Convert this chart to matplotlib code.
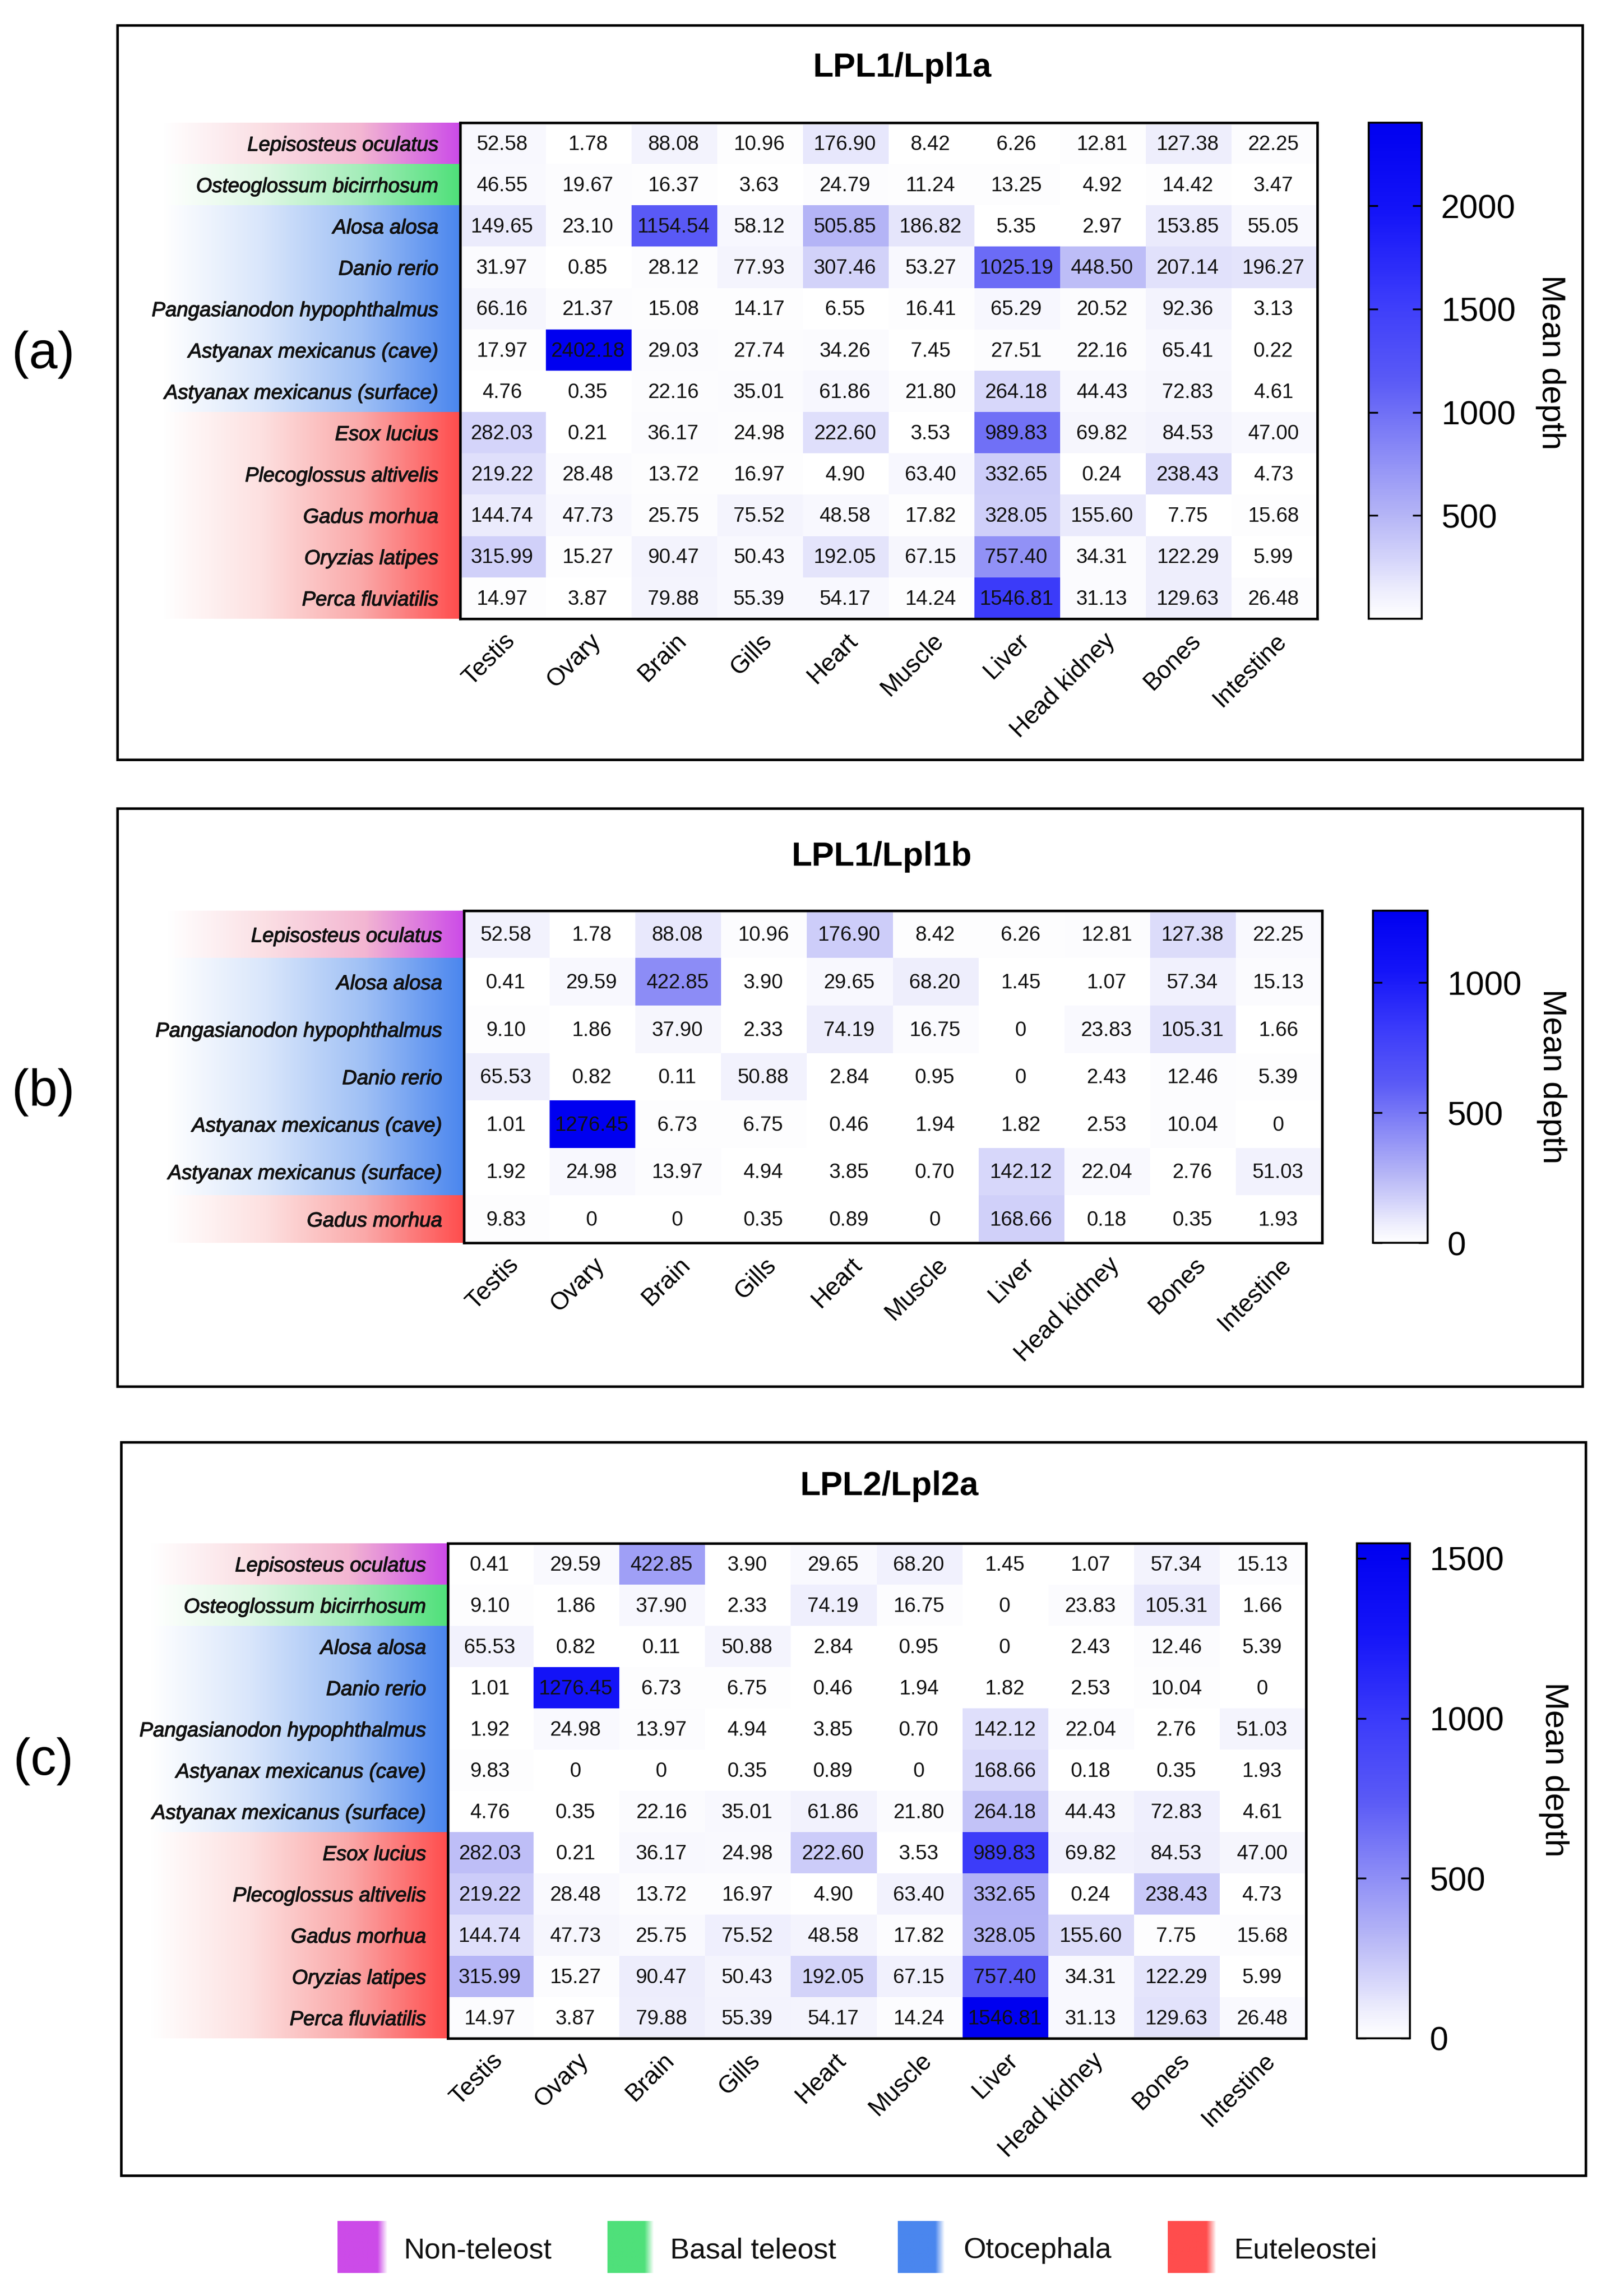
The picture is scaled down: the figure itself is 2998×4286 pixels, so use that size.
import numpy as np
import matplotlib
matplotlib.use("Agg")
import matplotlib.pyplot as plt
import matplotlib.patheffects as pe
from matplotlib.colors import LinearSegmentedColormap, to_rgb
from matplotlib.patches import Rectangle

plt.rcParams['font.family'] = ['Liberation Sans', 'DejaVu Sans']

W, H = 2998, 4286
DPI = 100

tissues = ["Testis", "Ovary", "Brain", "Gills", "Heart", "Muscle", "Liver", "Head kidney", "Bones", "Intestine"]

species_a = ["Lepisosteus oculatus", "Osteoglossum bicirrhosum", "Alosa alosa", "Danio rerio",
             "Pangasianodon hypophthalmus", "Astyanax mexicanus (cave)", "Astyanax mexicanus (surface)",
             "Esox lucius", "Plecoglossus altivelis", "Gadus morhua", "Oryzias latipes", "Perca fluviatilis"]
groups_a = ["non", "basal", "oto", "oto", "oto", "oto", "oto", "eu", "eu", "eu", "eu", "eu"]
values_a = [
    [52.58, 1.78, 88.08, 10.96, 176.90, 8.42, 6.26, 12.81, 127.38, 22.25],
    [46.55, 19.67, 16.37, 3.63, 24.79, 11.24, 13.25, 4.92, 14.42, 3.47],
    [149.65, 23.10, 1154.54, 58.12, 505.85, 186.82, 5.35, 2.97, 153.85, 55.05],
    [31.97, 0.85, 28.12, 77.93, 307.46, 53.27, 1025.19, 448.50, 207.14, 196.27],
    [66.16, 21.37, 15.08, 14.17, 6.55, 16.41, 65.29, 20.52, 92.36, 3.13],
    [17.97, 2402.18, 29.03, 27.74, 34.26, 7.45, 27.51, 22.16, 65.41, 0.22],
    [4.76, 0.35, 22.16, 35.01, 61.86, 21.80, 264.18, 44.43, 72.83, 4.61],
    [282.03, 0.21, 36.17, 24.98, 222.60, 3.53, 989.83, 69.82, 84.53, 47.00],
    [219.22, 28.48, 13.72, 16.97, 4.90, 63.40, 332.65, 0.24, 238.43, 4.73],
    [144.74, 47.73, 25.75, 75.52, 48.58, 17.82, 328.05, 155.60, 7.75, 15.68],
    [315.99, 15.27, 90.47, 50.43, 192.05, 67.15, 757.40, 34.31, 122.29, 5.99],
    [14.97, 3.87, 79.88, 55.39, 54.17, 14.24, 1546.81, 31.13, 129.63, 26.48],
]

species_b = ["Lepisosteus oculatus", "Alosa alosa", "Pangasianodon hypophthalmus", "Danio rerio",
             "Astyanax mexicanus (cave)", "Astyanax mexicanus (surface)", "Gadus morhua"]
groups_b = ["non", "oto", "oto", "oto", "oto", "oto", "eu"]
values_b = [
    [52.58, 1.78, 88.08, 10.96, 176.90, 8.42, 6.26, 12.81, 127.38, 22.25],
    [0.41, 29.59, 422.85, 3.90, 29.65, 68.20, 1.45, 1.07, 57.34, 15.13],
    [9.10, 1.86, 37.90, 2.33, 74.19, 16.75, 0, 23.83, 105.31, 1.66],
    [65.53, 0.82, 0.11, 50.88, 2.84, 0.95, 0, 2.43, 12.46, 5.39],
    [1.01, 1276.45, 6.73, 6.75, 0.46, 1.94, 1.82, 2.53, 10.04, 0],
    [1.92, 24.98, 13.97, 4.94, 3.85, 0.70, 142.12, 22.04, 2.76, 51.03],
    [9.83, 0, 0, 0.35, 0.89, 0, 168.66, 0.18, 0.35, 1.93],
]

species_c = species_a
groups_c = groups_a
values_c = [
    [0.41, 29.59, 422.85, 3.90, 29.65, 68.20, 1.45, 1.07, 57.34, 15.13],
    [9.10, 1.86, 37.90, 2.33, 74.19, 16.75, 0, 23.83, 105.31, 1.66],
    [65.53, 0.82, 0.11, 50.88, 2.84, 0.95, 0, 2.43, 12.46, 5.39],
    [1.01, 1276.45, 6.73, 6.75, 0.46, 1.94, 1.82, 2.53, 10.04, 0],
    [1.92, 24.98, 13.97, 4.94, 3.85, 0.70, 142.12, 22.04, 2.76, 51.03],
    [9.83, 0, 0, 0.35, 0.89, 0, 168.66, 0.18, 0.35, 1.93],
    [4.76, 0.35, 22.16, 35.01, 61.86, 21.80, 264.18, 44.43, 72.83, 4.61],
    [282.03, 0.21, 36.17, 24.98, 222.60, 3.53, 989.83, 69.82, 84.53, 47.00],
    [219.22, 28.48, 13.72, 16.97, 4.90, 63.40, 332.65, 0.24, 238.43, 4.73],
    [144.74, 47.73, 25.75, 75.52, 48.58, 17.82, 328.05, 155.60, 7.75, 15.68],
    [315.99, 15.27, 90.47, 50.43, 192.05, 67.15, 757.40, 34.31, 122.29, 5.99],
    [14.97, 3.87, 79.88, 55.39, 54.17, 14.24, 1546.81, 31.13, 129.63, 26.48],
]

legend_names = ["Non-teleost", "Basal teleost", "Otocephala", "Euteleostei"]
legend_keys = ["non", "basal", "oto", "eu"]

strip_cmaps = {
    "non": LinearSegmentedColormap.from_list("non", ["#ffffff", "#fbdfe4", "#f3b6d2", "#cc4be8"]),
    "basal": LinearSegmentedColormap.from_list("basal", ["#ffffff", "#dff8e4", "#a5edba", "#4fe07a"]),
    "oto": LinearSegmentedColormap.from_list("oto", ["#ffffff", "#d9e6fb", "#9fc0f5", "#4a86ee"]),
    "eu": LinearSegmentedColormap.from_list("eu", ["#ffffff", "#fde0e0", "#faa9a9", "#ff4d4d"]),
}
heat_cmap = LinearSegmentedColormap.from_list("heat", [
    (0.0, "#ffffff"), (0.05, "#efeffd"), (0.12, "#d4d4fa"), (0.21, "#b4b4f6"),
    (0.33, "#8c8cf6"), (0.48, "#5a5af6"), (0.64, "#3c3cfa"), (0.82, "#1414f8"), (1.0, "#0000f0"),
])


def px_axes(fig, x0, y0, x1, y1, **kw):
    return fig.add_axes([x0 / W, 1 - y1 / H, (x1 - x0) / W, (y1 - y0) / H], **kw)


def fmt(v):
    return "0" if v == 0 else f"{v:.2f}"


def panel(fig, title, label, species, groups, values, cticks, L):
    arr = np.array(values, dtype=float)
    fig.add_artist(Rectangle((L["frame"][0] / W, 1 - L["frame"][3] / H),
                             (L["frame"][2] - L["frame"][0]) / W,
                             (L["frame"][3] - L["frame"][1]) / H,
                             transform=fig.transFigure, fill=False, ec="black", lw=3.4))
    hx0, hy0, hx1, hy1 = L["heat"]

    # gradient strips behind the species names
    strip = px_axes(fig, hx0 - 555, hy0, hx0, hy1)
    ramp = np.linspace(0, 1, 256)
    strip.imshow(np.stack([strip_cmaps[g](ramp)[:, :3] for g in groups]),
                 aspect="auto", interpolation="nearest")
    strip.axis("off")

    ax = px_axes(fig, hx0, hy0, hx1, hy1, zorder=3)
    im = ax.imshow(arr, cmap=heat_cmap, vmin=0, vmax=arr.max(), aspect="auto", interpolation="nearest")
    for r in range(arr.shape[0]):
        for c in range(arr.shape[1]):
            ax.annotate(fmt(arr[r, c]), (c, r), xytext=(-1.5, -1.5), textcoords="offset points",
                        ha="center", va="center", fontsize=27.5, color="#111111")
    ax.set_xticks(range(len(tissues)))
    ax.set_xticklabels(tissues, rotation=45, ha="right", va="top", rotation_mode="anchor", fontsize=33)
    ax.set_yticks(range(len(species)))
    ax.set_yticklabels(species, fontsize=27.5, style="italic", color="#111111",
                       path_effects=[pe.withStroke(linewidth=0.9, foreground="#111111")])
    ax.tick_params(axis="x", length=0, pad=14)
    ax.tick_params(axis="y", length=0, pad=29)
    for s in ax.spines.values():
        s.set_linewidth(3.4)

    cax = px_axes(fig, *L["cbar"], zorder=3)
    cb = fig.colorbar(im, cax=cax)
    cb.set_ticks(cticks)
    cb.ax.tick_params(axis="y", direction="in", length=12, width=2.4, left=True, right=True,
                      labelsize=45, pad=26, color="black")
    cb.outline.set_linewidth(2.6)
    fig.text(L["ylab"][0] / W, 1 - L["ylab"][1] / H, "Mean depth", rotation=270,
             ha="center", va="center", fontsize=44.5)
    fig.text(L["title"][0] / W, 1 - L["title"][1] / H, title, ha="center", va="center",
             fontsize=45, fontweight="bold")
    fig.text(L["label"][0] / W, 1 - L["label"][1] / H, label, ha="left", va="center", fontsize=69)


fig = plt.figure(figsize=(W / DPI, H / DPI), dpi=DPI, facecolor="white")

panel(fig, "LPL1/Lpl1a", "(a)", species_a, groups_a, values_a, [500, 1000, 1500, 2000], {
    "frame": (219, 47, 2954, 1418), "heat": (859, 229, 2459, 1155), "cbar": (2555, 229, 2654, 1155),
    "ylab": (2895, 676), "title": (1684, 126), "label": (22, 662)})
panel(fig, "LPL1/Lpl1b", "(b)", species_b, groups_b, values_b, [0, 500, 1000], {
    "frame": (219, 1509, 2954, 2588), "heat": (866, 1700, 2468, 2320), "cbar": (2563, 1700, 2665, 2320),
    "ylab": (2897, 2009), "title": (1646, 1599), "label": (22, 2039)})
panel(fig, "LPL2/Lpl2a", "(c)", species_c, groups_c, values_c, [0, 500, 1000, 1500], {
    "frame": (226, 2692, 2960, 4061), "heat": (836, 2881, 2438, 3805), "cbar": (2533, 2881, 2632, 3805),
    "ylab": (2900, 3303), "title": (1660, 2774), "label": (25, 3288)})

swatch_x = [(630, 724), (1134, 1220), (1676, 1763), (2180, 2271)]
text_x = [753, 1251, 1798, 2303]
for name, key, (x0, x1), tx in zip(legend_names, legend_keys, swatch_x, text_x):
    a = px_axes(fig, x0, 4146, x1, 4243)
    col = np.array(to_rgb(strip_cmaps[key](1.0)))
    fade = np.clip((1 - np.linspace(0, 1, 64)) / 0.2, 0, 1)[:, None]
    a.imshow((col * fade + (1 - fade))[None, :, :], aspect="auto", interpolation="bilinear")
    a.axis("off")
    fig.text(tx / W, 1 - 4201 / H, name, ha="left", va="center", fontsize=39, color="#111111")

fig.savefig("out.png", dpi=DPI, facecolor="white")
